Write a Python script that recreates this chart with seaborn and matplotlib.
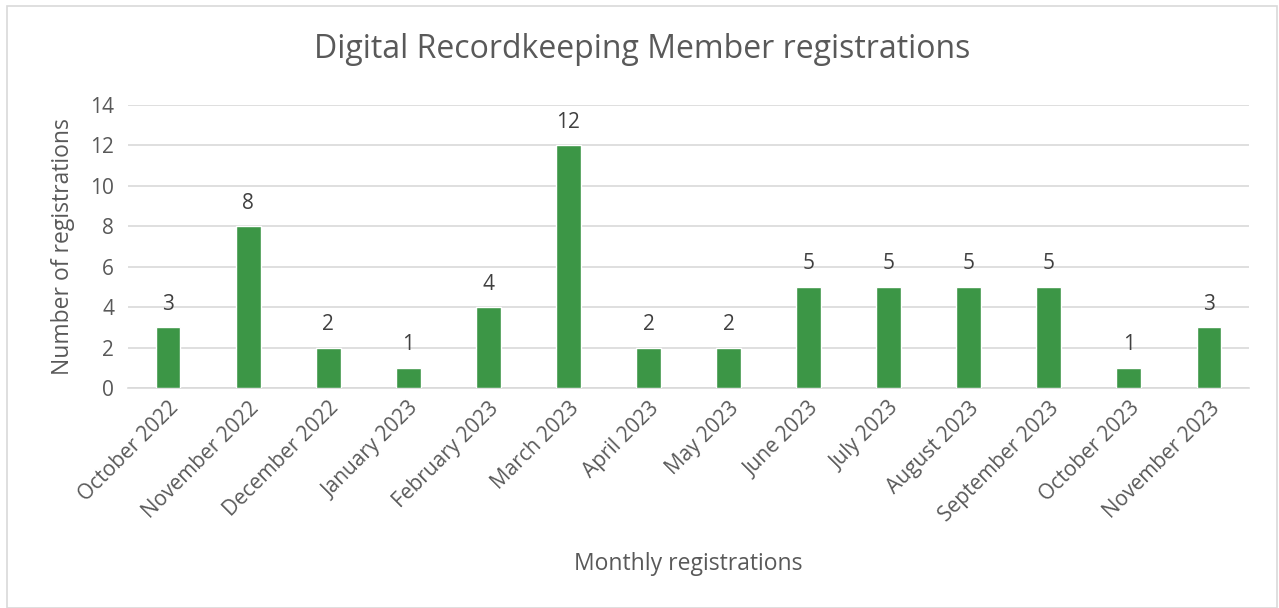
import matplotlib
matplotlib.use("Agg")
import matplotlib.pyplot as plt
import seaborn as sns
import pandas as pd
from matplotlib.patches import Rectangle

months = ["October 2022", "November 2022", "December 2022", "January 2023",
          "February 2023", "March 2023", "April 2023", "May 2023", "June 2023",
          "July 2023", "August 2023", "September 2023", "October 2023", "November 2023"]
registrations = [3, 8, 2, 1, 4, 12, 2, 2, 5, 5, 5, 5, 1, 3]
yticks = [0, 2, 4, 6, 8, 10, 12, 14]

sns.set_theme(style="white")
plt.rcParams['font.family'] = ['Open Sans', 'DejaVu Sans']

df = pd.DataFrame({"month": months, "count": registrations})

fig = plt.figure(figsize=(12.79, 6.08), dpi=100)
fig.patches.append(Rectangle((7/1279, 0), 1270/1279, 1 - 6/608, transform=fig.transFigure,
                             fill=False, edgecolor="#d9d9d9", linewidth=1.2))
ax = fig.add_axes([128/1279, 1 - 388/608, (1249 - 128)/1279, (388 - 105)/608])

sns.barplot(data=df, x="month", y="count", color="#3c9646", width=0.31,
            saturation=1, ax=ax, zorder=3)

ax.set_ylim(0, 14)
ax.set_yticks(yticks)
ax.set_xlim(-0.5, len(months) - 0.5)
ax.yaxis.grid(True, color="#d9d9d9", linewidth=1.2, zorder=0)
for s in ["top", "right", "left"]:
    ax.spines[s].set_visible(False)
ax.spines["bottom"].set_color("#d9d9d9")
ax.spines["bottom"].set_linewidth(1.2)
ax.tick_params(axis="both", length=0, colors="#595959", labelsize=15)
ax.tick_params(axis="y", pad=10)
ax.tick_params(axis="x", pad=7)
plt.setp(ax.get_xticklabels(), rotation=45, ha="right", rotation_mode="anchor")

for c in ax.containers:
    ax.bar_label(c, labels=[str(v) for v in registrations], padding=9,
                 fontsize=15, color="#404040")

ax.set_ylabel("Number of registrations", fontsize=16.5, color="#595959", labelpad=11)
ax.set_xlabel("Monthly registrations", fontsize=16.5, color="#595959", labelpad=19)
fig.text(642/1279, 1 - 50/608, "Digital Recordkeeping Member registrations",
         ha="center", va="center", fontsize=23, color="#595959")

fig.savefig("out.png", dpi=100, facecolor="white")
